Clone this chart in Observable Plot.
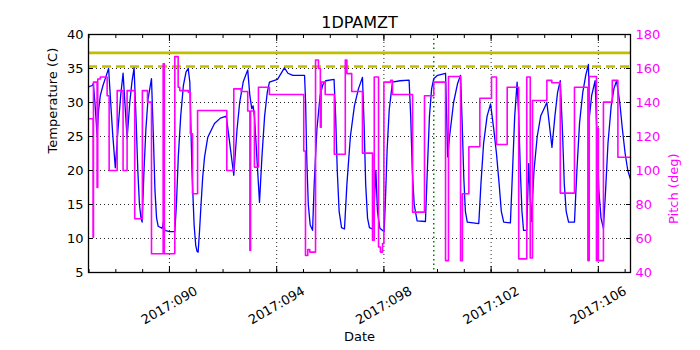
<!DOCTYPE html>
<html><head><meta charset="utf-8">
<script src="https://cdn.jsdelivr.net/npm/d3@7"></script>
<script src="https://cdn.jsdelivr.net/npm/@observablehq/plot@0.6"></script>
<style>body{margin:0;background:#fff}</style>
</head><body><div id="chart"></div>
<script>
// Temperature (1DPAMZT, deg C) vs day of year 2017
const tempDays = [86.98,87.12,87.16,87.22,87.30,87.36,87.42,87.52,87.63,87.73,87.80,87.88,87.98,88.08,88.18,88.27,88.42,88.52,88.60,88.68,88.75,88.82,88.88,88.94,88.98,89.05,89.12,89.20,89.33,89.40,89.46,89.52,89.58,89.73,89.78,89.83,90.00,90.20,90.26,90.33,90.42,90.52,90.62,90.70,90.76,90.84,90.92,90.98,91.03,91.07,91.12,91.18,91.24,91.31,91.43,91.68,91.90,92.12,92.40,92.52,92.62,92.75,92.92,93.00,93.07,93.12,93.17,93.36,93.45,93.55,93.65,93.73,94.03,94.29,94.42,94.60,95.04,95.08,95.12,95.18,95.25,95.34,95.40,95.50,95.62,95.72,95.83,96.14,96.20,96.26,96.33,96.42,96.53,96.62,96.75,96.90,97.05,97.20,97.26,97.32,97.39,97.46,97.575,97.64,97.70,97.76,97.85,98.01,98.06,98.12,98.20,98.32,98.60,98.94,99.00,99.06,99.13,99.24,99.55,99.62,99.70,99.78,99.86,100.00,100.30,100.38,100.45,100.60,100.75,100.86,100.92,100.98,101.04,101.11,101.54,101.62,101.72,101.85,101.98,102.10,102.20,102.30,102.38,102.47,102.72,102.80,102.88,102.97,103.03,103.09,103.15,103.21,103.33,103.40,103.50,103.60,103.72,103.85,104.08,104.27,104.38,104.48,104.58,104.66,104.73,104.80,104.89,105.11,105.20,105.30,105.42,105.53,105.63,105.67,105.75,105.88,105.95,106.02,106.10,106.19,106.27,106.36,106.48,106.58,106.68,106.80,106.90,107.00,107.10,107.20];
const tempValues = [32.3,32.5,32.8,30.0,25.2,29.0,31.0,32.5,33.8,35.0,30.5,25.5,20.4,26.0,31.0,34.3,24.7,30.0,33.0,35.1,28.0,20.0,15.0,13.0,12.4,20.0,26.0,30.5,33.5,25.0,17.0,13.0,11.8,11.5,12.5,11.2,11.0,11.0,15.0,22.0,28.0,32.5,34.5,35.0,33.0,20.0,12.0,9.0,8.1,8.0,11.0,15.1,19.0,22.0,24.9,26.9,27.7,28.0,19.3,26.0,30.0,33.0,34.8,31.0,29.1,29.5,28.0,15.3,22.0,28.0,31.5,33.0,33.4,35.1,34.3,34.0,34.0,30.0,22.0,15.0,12.0,11.2,18.0,26.0,31.0,32.6,33.2,33.4,28.0,20.0,14.0,11.6,11.4,18.0,25.0,29.5,32.0,33.7,27.0,18.0,13.0,11.6,11.4,15.0,20.0,14.0,11.5,11.0,16.0,23.0,29.0,33.0,33.2,33.3,28.0,20.0,15.0,12.6,12.5,20.0,28.0,32.0,33.5,34.0,34.3,22.0,25.0,30.0,32.8,34.0,27.0,19.0,14.0,12.4,12.2,18.0,24.0,28.0,29.8,26.0,22.5,18.0,14.0,12.4,12.3,20.0,28.0,33.0,28.0,20.0,14.0,11.2,11.2,21.0,12.5,20.0,25.0,28.0,30.0,23.4,28.0,31.5,33.2,26.0,18.0,14.0,12.4,12.4,20.0,27.0,31.5,34.0,35.6,28.0,31.0,33.2,25.0,17.0,13.0,11.5,17.0,24.0,29.5,32.0,33.2,30.0,26.0,22.5,20.0,18.7];
// Pitch (deg), piecewise constant
const pitchDays = [86.98,87.15,87.165,87.30,87.325,87.42,87.675,87.75,88.05,88.27,88.42,88.705,88.99,89.18,89.33,89.765,89.81,90.20,90.325,90.384,90.70,90.78,90.86,91.05,92.14,92.40,92.675,92.92,93.00,93.025,93.17,93.32,93.73,95.01,95.075,95.16,95.235,95.45,95.56,95.63,95.66,95.81,96.15,96.56,96.62,96.80,97.20,97.575,97.64,97.80,97.87,97.95,98.00,98.25,98.32,99.07,99.515,99.86,100.30,100.41,100.86,100.93,101.17,101.58,102.015,102.20,102.60,103.03,103.33,103.46,103.545,104.08,104.265,104.58,105.11,105.61,105.66,105.93,105.96,106.00,106.19,106.52,106.73,107.20];
const pitchValues = [130.4,60.8,152,90,153.8,155,144,100,147,100,147,71.6,147,140.2,51,162.7,51,167,149,147,146,121.6,86.3,135.3,100,148,146.5,135,53,135,102,149,144.7,111.5,50,53.5,52,165,160,125.5,152,144.7,109.6,165,157,146.5,110.2,59,155,55,52,57,152,153,144.7,75.5,144,152,47,155.3,47,86.3,114,142.5,155,115.3,149,48,155,48.5,141.2,153,151.6,86.7,149,47,155.3,47,125,47,140.2,153,107.8,107.8];

const dayTicks = [90, 94, 98, 102, 106];
const minorDays = d3.range(87, 108);
const tempTicks = [5, 10, 15, 20, 25, 30, 35, 40];
const pitchTicks = [40, 60, 80, 100, 120, 140, 160, 180];
const tempLimits = {planning: 37.3, caution: 35.3};
const markerDay = [99.86];

const pitchToTemp = d3.scaleLinear([40, 180], [5, 40]);
const tempRows = tempDays.map((d, i) => ({day: d, value: tempValues[i]}));
const pitchRows = pitchDays.map((d, i) => ({day: d, value: pitchValues[i]}));
const fmtDay = d => "2017:" + String(d).padStart(3, "0");
const MAG = "#ff00ff";

const chart = Plot.plot({
  width: 700, height: 350,
  marginLeft: 88, marginRight: 70, marginTop: 34, marginBottom: 78,
  style: {fontFamily: "DejaVu Sans, sans-serif", fontSize: "13px", background: "white", color: "black"},
  x: {domain: [86.98, 107.2], axis: null},
  y: {domain: [5, 40], axis: null},
  marks: [
    Plot.gridX(dayTicks, {stroke: "black", strokeOpacity: 0.85, strokeDasharray: "1,3", strokeWidth: 1}),
    Plot.gridY(tempTicks.slice(1, -1), {stroke: "black", strokeOpacity: 0.85, strokeDasharray: "1,3", strokeWidth: 1}),
    Plot.ruleX(markerDay, {stroke: "green", strokeDasharray: "1.5,3", strokeWidth: 1.5}),
    Plot.ruleY([tempLimits.planning], {stroke: "#bfbf00", strokeWidth: 2.6}),
    Plot.ruleY([tempLimits.caution], {stroke: "#bfbf00", strokeWidth: 2.6, strokeDasharray: "9,5"}),
    Plot.line(tempRows, {x: "day", y: "value", stroke: "blue", strokeWidth: 1.3}),
    Plot.line(pitchRows, {x: "day", y: d => pitchToTemp(d.value), stroke: MAG, strokeWidth: 1.6, curve: "step-after"}),
    Plot.frame({stroke: "black", strokeWidth: 1.3}),
    // inward ticks
    Plot.axisX(minorDays, {anchor: "bottom", tickSize: 3, dy: -3, tickFormat: () => "", label: null}),
    Plot.axisX(dayTicks, {anchor: "bottom", tickSize: 6, dy: -6, tickFormat: () => "", label: null}),
    Plot.axisX(minorDays, {anchor: "top", tickSize: 3, dy: 3, tickFormat: () => "", label: null}),
    Plot.axisX(dayTicks, {anchor: "top", tickSize: 6, dy: 6, tickFormat: () => "", label: null}),
    Plot.axisY(tempTicks, {anchor: "left", tickSize: 5, dx: 5, tickFormat: () => "", label: null}),
    Plot.axisY(pitchTicks.map(p => pitchToTemp(p)), {anchor: "right", tickSize: 5, dx: -5, tickFormat: () => "", label: null}),
    // tick labels
    Plot.axisY(tempTicks, {anchor: "left", tickSize: 0, tickPadding: 5, label: null}),
    Plot.axisY(pitchTicks.map(p => pitchToTemp(p)), {anchor: "right", tickSize: 0, tickPadding: 5, label: null, color: MAG, tickFormat: t => Math.round(pitchToTemp.invert(t))}),
    Plot.text(dayTicks, {x: d => d, frameAnchor: "bottom", lineAnchor: "middle", dy: 33, rotate: -30, text: fmtDay, textAnchor: "middle"}),
    // titles
    Plot.text(["1DPAMZT"], {frameAnchor: "top", lineAnchor: "middle", dy: -12, fontSize: 16}),
    Plot.text(["Date"], {frameAnchor: "bottom", lineAnchor: "middle", dy: 64}),
    Plot.text(["Temperature (C)"], {frameAnchor: "left", lineAnchor: "middle", dx: -36, rotate: -90}),
    Plot.text(["Pitch (deg)"], {frameAnchor: "right", lineAnchor: "middle", dx: 43, rotate: -90, fill: MAG})
  ]
});
document.getElementById("chart").appendChild(chart);
</script>
</body></html>
